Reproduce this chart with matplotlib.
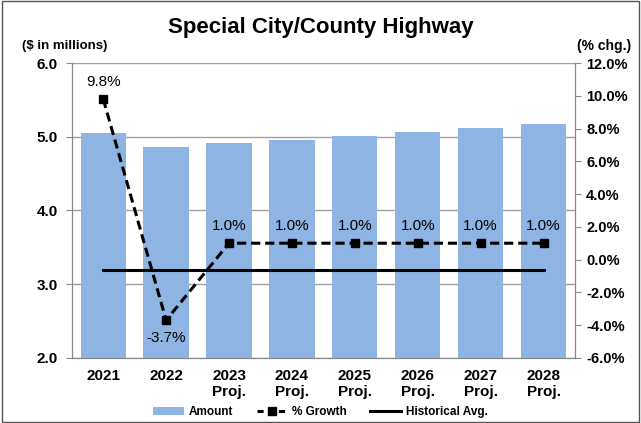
import matplotlib
matplotlib.use("Agg")
import matplotlib.pyplot as plt
from matplotlib.lines import Line2D
from matplotlib.patches import Patch

plt.rcParams['font.family'] = ['Liberation Sans', 'DejaVu Sans']

categories = ["2021", "2022", "2023\nProj.", "2024\nProj.", "2025\nProj.", "2026\nProj.", "2027\nProj.", "2028\nProj."]
amounts = [5.05, 4.86, 4.91, 4.96, 5.01, 5.07, 5.12, 5.17]
growth = [9.8, -3.7, 1.0, 1.0, 1.0, 1.0, 1.0, 1.0]
hist_avg = -0.65
left_ticks = [2.0, 3.0, 4.0, 5.0, 6.0]
right_ticks = [-6, -4, -2, 0, 2, 4, 6, 8, 10, 12]

fig = plt.figure(figsize=(6.41, 4.23), dpi=100)
ax = fig.add_axes([0.112, 0.154, 0.785, 0.697])
x = list(range(len(categories)))

ax.set_axisbelow(True)
ax.yaxis.grid(True, color='#a0a0a0', linewidth=1)
ax.bar(x, amounts, width=0.72, color='#8db4e2', zorder=2)
ax.set_ylim(2.0, 6.0)
ax.set_xlim(-0.5, len(categories) - 0.5)
ax.set_yticks(left_ticks)
ax.set_yticklabels([f"{v:.1f}" for v in left_ticks], fontsize=11, fontweight='bold')
ax.set_xticks(x)
ax.set_xticklabels(categories, fontsize=11, fontweight='bold')
ax.tick_params(axis='x', length=0, pad=8)
ax.tick_params(axis='y', length=4, color='#888888', direction='out', pad=6)
ax.spines['top'].set_visible(False)
for s in ['left', 'right', 'bottom']:
    ax.spines[s].set_color('#888888')

ax2 = ax.twinx()
ax2.set_ylim(-6, 12)
ax2.set_yticks(right_ticks)
ax2.set_yticklabels([f"{v:.1f}%" for v in right_ticks], fontsize=10.5, fontweight='bold')
ax2.tick_params(axis='y', length=4, color='#888888', direction='out', pad=4)
ax2.spines['top'].set_visible(False)
for s in ['left', 'right', 'bottom']:
    ax2.spines[s].set_color('#888888')

ax2.plot(x, growth, color='black', linestyle=(0, (3, 1.6)), linewidth=2.2,
         marker='s', markersize=6, zorder=4)
ax2.plot([x[0], x[-1]], [hist_avg, hist_avg], color='black', linewidth=2.2, zorder=3)

for xi, g in zip(x, growth):
    if g < 0:
        ax2.annotate(f"{g:.1f}%", (xi, g), xytext=(0, -8), textcoords='offset points',
                     ha='center', va='top', fontsize=11)
    else:
        ax2.annotate(f"{g:.1f}%", (xi, g), xytext=(0, 7), textcoords='offset points',
                     ha='center', va='bottom', fontsize=11)

fig.text(0.5, 0.935, "Special City/County Highway", ha='center', va='center',
         fontsize=16, fontweight='bold')
fig.text(0.035, 0.892, "($ in millions)", ha='left', va='center', fontsize=9.5, fontweight='bold')
fig.text(0.985, 0.892, "(% chg.)", ha='right', va='center', fontsize=10, fontweight='bold')

handles = [Patch(facecolor='#8db4e2', edgecolor='none'),
           Line2D([0], [0], color='black', linestyle=(0, (2, 1.5)), linewidth=2.2, marker='s', markersize=6),
           Line2D([0], [0], color='black', linewidth=2.2)]
fig.legend(handles, ["Amount", "% Growth", "Historical Avg."], loc='center',
           bbox_to_anchor=(0.5, 0.025), ncol=3, frameon=False,
           prop={'size': 8.5, 'weight': 'bold'}, handlelength=2.6, columnspacing=2.0,
           handletextpad=0.4)

fig.patches.append(plt.Rectangle((0.003, 0.003), 0.994, 0.994, transform=fig.transFigure,
                                 fill=False, edgecolor='#555555', linewidth=1))

fig.savefig("out.png", dpi=100)
